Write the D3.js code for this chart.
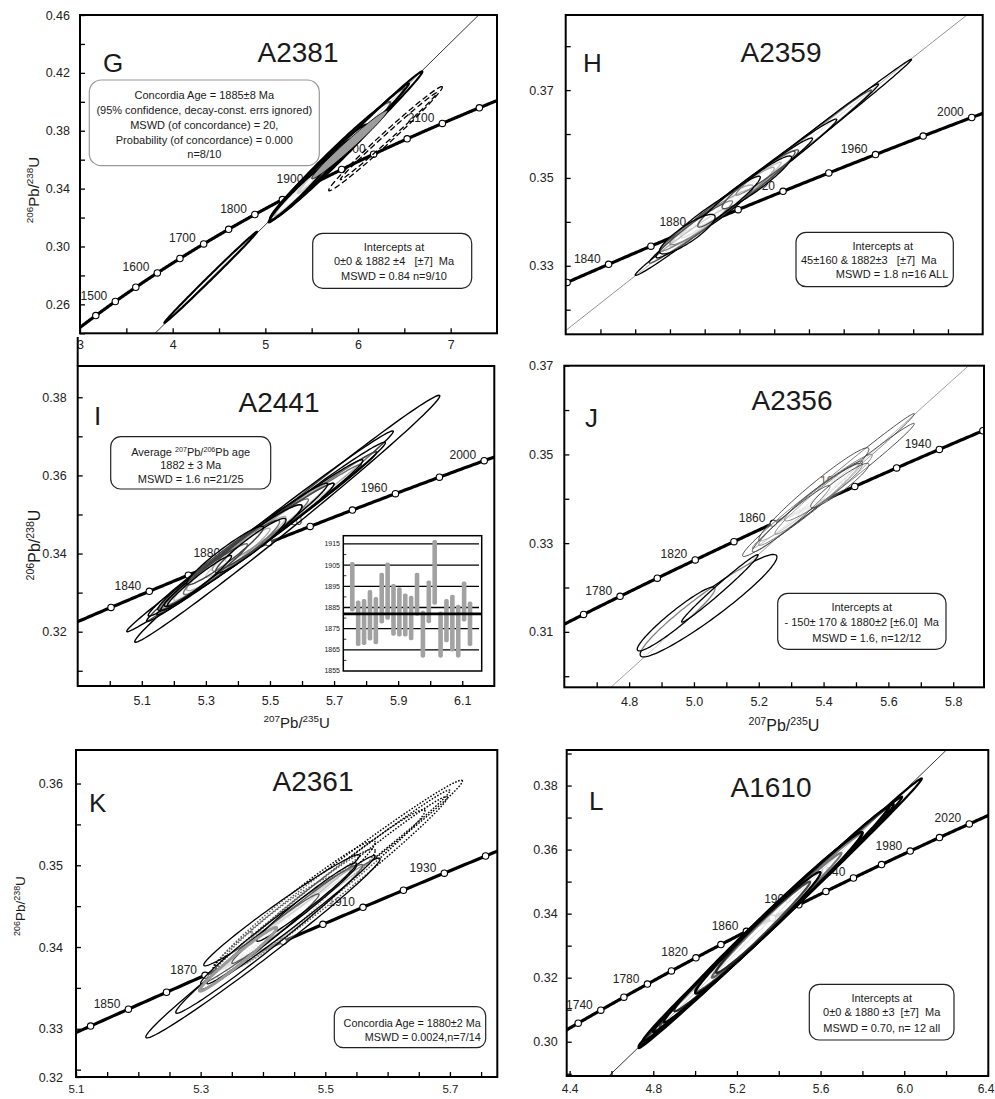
<!DOCTYPE html>
<html><head><meta charset="utf-8">
<script src="https://cdn.jsdelivr.net/npm/d3@7/dist/d3.min.js"></script>
<style>
html,body{margin:0;padding:0;background:#fff}
text{font-family:"Liberation Sans",Arial,Helvetica,sans-serif;fill:#1a1a1a}
</style></head><body>
<svg id="chart" width="995" height="1099" xmlns="http://www.w3.org/2000/svg"></svg>
<script>
// decay constants (per year)
const LAMBDA_238 = 1.55125e-10;
const LAMBDA_235 = 9.8485e-10;

// ---------- concordia age markers (Ma) ----------
const markAgesG = [1450,1500,1550,1600,1650,1700,1750,1800,1850,1900,1950,2000,2050,2100,2150];
const labelAgesG = [1500,1600,1700,1800,1900,2000,2100];
const markAgesH = [1820,1840,1860,1880,1900,1920,1940,1960,1980,2000];
const labelAgesH = [1840,1880,1920,1960,2000];
const markAgesI = [1820,1840,1860,1880,1900,1920,1940,1960,1980,2000];
const labelAgesI = [1840,1880,1920,1960,2000];
const markAgesJ = [1760,1780,1800,1820,1840,1860,1880,1900,1920,1940,1960];
const labelAgesJ = [1780,1820,1860,1900,1940];
const markAgesK = [1840,1850,1860,1870,1880,1890,1900,1910,1920,1930,1940];
const labelAgesK = [1850,1870,1890,1910,1930];
const markAgesL = [1720,1740,1760,1780,1800,1820,1840,1860,1880,1900,1920,1940,1960,1980,2000,2020];
const labelAgesL = [1740,1780,1820,1860,1900,1940,1980,2020];

// discordia intercept ages (Ma)
const interceptsG = [0, 1882];
const interceptsH = [45, 1882];
const interceptsJ = [-150, 1880];
const interceptsL = [0, 1880];

// ---------- error ellipses: [207/235, 2s, 206/238, 2s, rho] ----------
const ellipsesG = [
  [4.41, 0.50, 0.2787, 0.0315, 0.998],
  [5.865, 0.83, 0.3688, 0.0522, 0.9957],
  [5.80, 0.70, 0.3655, 0.0440, 0.994],
  [5.70, 0.65, 0.3590, 0.0410, 0.986],
  [5.95, 0.60, 0.3748, 0.0380, 0.995],
  [5.60, 0.50, 0.3528, 0.0315, 0.983],
  [5.50, 0.45, 0.3465, 0.0280, 0.978],
  [5.45, 0.40, 0.3432, 0.0250, 0.981],
  [5.35, 0.30, 0.3370, 0.0190, 0.979]
];
const ellipsesGGray = [[5.91, 0.41, 0.3704, 0.0237, 0.985]];
const ellipsesGDashed = [
  [6.297, 0.613, 0.3745, 0.036, 0.9896],
  [6.33, 0.52, 0.3762, 0.030, 0.995]
];
const ellipsesH = [
  [5.33, 0.13, 0.3354, 0.0076, 0.989],
  [5.71, 0.285, 0.3592, 0.0178, 0.9979],
  [5.68, 0.22, 0.3574, 0.0140, 0.9946],
  [5.58, 0.20, 0.3514, 0.0120, 0.9897],
  [5.50, 0.17, 0.3464, 0.0100, 0.98],
  [5.45, 0.15, 0.3434, 0.0090, 0.975],
  [5.40, 0.13, 0.3403, 0.0070, 0.9715],
  [5.37, 0.11, 0.3383, 0.0065, 0.965],
  [5.42, 0.12, 0.3416, 0.0068, 0.944],
  [5.52, 0.14, 0.3476, 0.0085, 0.9715],
  [5.35, 0.08, 0.3372, 0.0045, 0.868],
  [5.60, 0.11, 0.3526, 0.0065, 0.976],
  [5.47, 0.09, 0.3446, 0.0058, 0.953],
  [5.55, 0.10, 0.3490, 0.0060, 0.943],
  [5.43, 0.19, 0.3421, 0.0115, 0.989],
  [5.63, 0.25, 0.3545, 0.0155, 0.9956]
];
const ellipsesI = [
  [5.554, 0.476, 0.3489, 0.0316, 0.9946],
  [5.443, 0.39, 0.3430, 0.0230, 0.9954],
  [5.50, 0.385, 0.3470, 0.0244, 0.9944],
  [5.49, 0.343, 0.3452, 0.0209, 0.9943],
  [5.47, 0.315, 0.3444, 0.0184, 0.9928],
  [5.40, 0.22, 0.3405, 0.0135, 0.982],
  [5.45, 0.25, 0.3430, 0.0150, 0.9856],
  [5.35, 0.20, 0.3375, 0.0120, 0.9776],
  [5.42, 0.18, 0.3415, 0.0110, 0.965],
  [5.50, 0.20, 0.3460, 0.0120, 0.983],
  [5.38, 0.15, 0.3390, 0.0095, 0.962],
  [5.33, 0.17, 0.3360, 0.0105, 0.977],
  [5.56, 0.23, 0.3500, 0.0140, 0.987],
  [5.46, 0.14, 0.3440, 0.0085, 0.954],
  [5.30, 0.13, 0.3345, 0.0080, 0.971],
  [5.36, 0.12, 0.3395, 0.0075, 0.954],
  [5.52, 0.16, 0.3480, 0.0100, 0.974],
  [5.44, 0.11, 0.3420, 0.0070, 0.946],
  [5.28, 0.10, 0.3330, 0.0065, 0.968],
  [5.40, 0.28, 0.3410, 0.0170, 0.9887],
  [5.60, 0.26, 0.3525, 0.0160, 0.990]
];
const ellipsesJLower = [
  [5.045, 0.211, 0.3159, 0.01155, 0.95],
  [4.945, 0.12, 0.3129, 0.0072, 0.948],
  [5.08, 0.118, 0.3198, 0.0076, 0.987]
];
const ellipsesJUpper = [
  [5.43, 0.25, 0.3440, 0.0152, 0.9954],
  [5.36, 0.16, 0.3390, 0.0095, 0.977],
  [5.38, 0.13, 0.3400, 0.0080, 0.975],
  [5.35, 0.20, 0.3385, 0.0115, 0.98],
  [5.40, 0.12, 0.3415, 0.0065, 0.953],
  [5.45, 0.09, 0.3430, 0.0050, 0.94],
  [5.30, 0.12, 0.3355, 0.0075, 0.971],
  [5.37, 0.17, 0.3410, 0.0105, 0.968],
  [5.50, 0.18, 0.3465, 0.0105, 0.9905]
];
const ellipsesKDotted = [
  [5.52, 0.20, 0.3489, 0.0115, 0.991],
  [5.51, 0.19, 0.3480, 0.0112, 0.994],
  [5.53, 0.166, 0.3481, 0.0103, 0.99],
  [5.46, 0.12, 0.3445, 0.0075, 0.97],
  [5.45, 0.13, 0.3450, 0.0080, 0.975],
  [5.42, 0.10, 0.3425, 0.0062, 0.95],
  [5.50, 0.16, 0.3470, 0.0098, 0.985]
];
const ellipsesKSolid = [
  [5.40, 0.188, 0.33988, 0.0110, 0.990],
  [5.41, 0.15, 0.3410, 0.0091, 0.988],
  [5.42, 0.12, 0.3425, 0.0070, 0.988],
  [5.45, 0.10, 0.3440, 0.0060, 0.988],
  [5.44, 0.14, 0.3430, 0.0082, 0.991],
  [5.40, 0.09, 0.3410, 0.0055, 0.985],
  [5.47, 0.08, 0.3455, 0.0048, 0.981],
  [5.43, 0.125, 0.3445, 0.0068, 0.984]
];
const ellipsesKGray = [[5.36, 0.062, 0.3385, 0.0039, 0.979]];
const ellipsesL = [
  [5.407, 0.677, 0.3401, 0.0421, 0.9981],
  [5.36, 0.63, 0.3375, 0.0390, 0.9978],
  [5.35, 0.60, 0.3372, 0.0370, 0.9967],
  [5.30, 0.50, 0.3340, 0.0310, 0.9953],
  [5.25, 0.45, 0.3310, 0.0280, 0.9957],
  [5.35, 0.45, 0.3375, 0.0280, 0.9924],
  [5.40, 0.40, 0.3405, 0.0250, 0.990],
  [5.20, 0.35, 0.3280, 0.0220, 0.993],
  [5.45, 0.35, 0.3435, 0.0220, 0.990],
  [5.30, 0.30, 0.3340, 0.0190, 0.987],
  [5.50, 0.42, 0.3465, 0.0265, 0.995],
  [5.38, 0.55, 0.3390, 0.0345, 0.9961]
];

// ---------- inset (I): 207Pb/206Pb ages ----------
const insetLow  = [1883.1,1866.8,1867.3,1869.4,1867.6,1877.4,1879.2,1871.6,1871.3,1871.3,1869.5,1881.1,1861.3,1877.6,1886.3,1861.3,1868.6,1864.2,1861.3,1878.4,1866.8];
const insetHigh = [1906.5,1888.3,1889.0,1893.2,1889.9,1901.4,1906.2,1896.1,1894.6,1891.6,1890.5,1901.4,1883.4,1897.8,1916.9,1883.1,1889.0,1891.0,1886.3,1897.3,1887.8];
const insetGrid = [1865,1875,1885,1895,1905,1915];
const insetLabels = [1855,1865,1875,1885,1895,1905,1915];
const insetMinor = [1860,1870,1880,1890,1900,1910];
const insetMean = 1882;

// ---------- axis ticks ----------
const xTicksG = [3,3.5,4,4.5,5,5.5,6,6.5,7];
const xLabelsG = [3,4,5,6,7];
const yTicksG = [0.24,0.26,0.28,0.30,0.32,0.34,0.36,0.38,0.40,0.42,0.44,0.46];
const yLabelsG = [0.26,0.30,0.34,0.38,0.42,0.46];
const xTicksH = [5.1,5.2,5.3,5.4,5.5,5.6,5.7,5.8,5.9,6.0,6.1];
const xLabelsH = [];
const yTicksH = [0.32,0.33,0.34,0.35,0.36,0.37,0.38];
const yLabelsH = [0.33,0.35,0.37];
const xTicksI = [5.0,5.1,5.2,5.3,5.4,5.5,5.6,5.7,5.8,5.9,6.0,6.1];
const xLabelsI = [5.1,5.3,5.5,5.7,5.9,6.1];
const yTicksI = [0.31,0.32,0.33,0.34,0.35,0.36,0.37,0.38];
const yLabelsI = [0.32,0.34,0.36,0.38];
const xTicksJ = [4.7,4.8,4.9,5.0,5.1,5.2,5.3,5.4,5.5,5.6,5.7,5.8];
const xLabelsJ = [4.8,5.0,5.2,5.4,5.6,5.8];
const yTicksJ = [0.30,0.31,0.32,0.33,0.34,0.35,0.36,0.37];
const yLabelsJ = [0.31,0.33,0.35,0.37];
const xTicksK = [5.1,5.15,5.2,5.25,5.3,5.35,5.4,5.45,5.5,5.55,5.6,5.65,5.7,5.75];
const xLabelsK = [5.1,5.3,5.5,5.7];
const yTicksK = [0.3241,0.325,0.33,0.335,0.34,0.345,0.35,0.355,0.36];
const yLabelsK = [0.3241,0.33,0.34,0.35,0.36];
const yLabelTextK = ["0.32","0.33","0.34","0.35","0.36"];
const xTicksL = [4.4,4.6,4.8,5.0,5.2,5.4,5.6,5.8,6.0,6.2,6.4];
const xLabelsL = [4.4,4.8,5.2,5.6,6.0,6.4];
const yTicksL = [0.29,0.30,0.31,0.32,0.33,0.34,0.35,0.36,0.37,0.38,0.39];
const yLabelsL = [0.30,0.32,0.34,0.36,0.38];

// ---------- annotation texts ----------
const boxG1 = ["Concordia Age = 1885\u00b18 Ma","(95% confidence, decay-const. errs ignored)","MSWD (of concordance) = 20,","Probability (of concordance) = 0.000","n=8/10"];
const boxG2 = ["Intercepts at","0\u00b10 & 1882 \u00b14   [\u00b17]  Ma","MSWD = 0.84 n=9/10"];
const boxH = ["Intercepts at","45\u00b1160 & 1882\u00b13   [\u00b17]  Ma","MSWD = 1.8 n=16 ALL"];
const boxI = ["Average {207}Pb/{206}Pb age","1882 \u00b1 3 Ma","MSWD = 1.6 n=21/25"];
const boxJ = ["Intercepts at","- 150\u00b1 170 & 1880\u00b12 [\u00b16.0]  Ma","MSWD = 1.6, n=12/12"];
const boxK = ["Concordia Age = 1880\u00b12 Ma","MSWD = 0.0024,n=7/14"];
const boxL = ["Intercepts at","0\u00b10 & 1880 \u00b13  [\u00b17]  Ma","MSWD = 0.70, n= 12 all"];

// ================= drawing =================
const svg = d3.select("#chart");
const defs = svg.append("defs");

function conc(tMa){ return [Math.exp(LAMBDA_235*tMa*1e6)-1, Math.exp(LAMBDA_238*tMa*1e6)-1]; }
function ageFromX(x){ return Math.log(1+x)/LAMBDA_235/1e6; }

function rich(sel, str, base, sup){
  const parts = str.split(/(\{[^}]*\})/).filter(s=>s.length);
  let raised = false;
  parts.forEach(pt=>{
    if(pt[0]==="{"){ sel.append("tspan").attr("font-size",sup).attr("dy",-base*0.4).text(pt.slice(1,-1)); raised=true; }
    else { const ts = sel.append("tspan").attr("font-size",base).text(pt); if(raised){ ts.attr("dy",base*0.4); raised=false; } }
  });
}

function ellipsePath(e, x, y){
  const [cx,sx,cy,sy,r] = e;
  const q = Math.sqrt(1-r*r);
  const pts = d3.range(0,120).map(i=>{
    const th = 2*Math.PI*i/120;
    return [x(cx + sx*Math.cos(th)), y(cy + sy*(r*Math.cos(th) + q*Math.sin(th)))];
  });
  return d3.line().curve(d3.curveLinearClosed)(pts);
}

const panels = [
 {key:"G", l:80, t:15, r:497, b:333.3, xd:[3,7.5], yd:[0.24,0.46],
  xTicks:xTicksG, xLabels:xLabelsG, xFmt:d3.format("d"), yTicks:yTicksG, yLabels:yLabelsG, yFmt:d3.format(".2f"),
  xPad:7, yPad:10, marks:markAgesG, labels:labelAgesG, intercepts:interceptsG, disc:{c:"#000",w:0.8},
  groups:[{d:ellipsesG, stroke:"#000", w:2.1, fill:"#fff", fo:0.35, sort:true},
          {d:ellipsesGGray, stroke:"#000", w:0.9, fill:"#9c9c9c", fo:1},
          {d:ellipsesGDashed, stroke:"#000", w:1.3, fill:"none", dash:"6,3"}],
  letter:["G",103,71.7], title:["A2381",298,61.7]},
 {key:"H", l:565.7, t:15, r:982.7, b:334.3, xd:[5.0,6.2], yd:[0.3144,0.3871],
  xTicks:xTicksH, xLabels:xLabelsH, xFmt:d3.format(".1f"), yTicks:yTicksH, yLabels:yLabelsH, yFmt:d3.format(".2f"),
  xPad:8, yPad:12, marks:markAgesH, labels:labelAgesH, intercepts:interceptsH, disc:{c:"#777",w:0.8},
  groups:[{d:ellipsesH, stroke:"#000", w:1.3, fill:"#fff", fo:0.3, sort:true}],
  letter:["H",583,71.7], title:["A2359",781,61.7]},
 {key:"I", l:77.7, t:366, r:494.3, b:686, xd:[4.9,6.2], yd:[0.3061,0.3880],
  xTicks:xTicksI, xLabels:xLabelsI, xFmt:d3.format(".1f"), yTicks:yTicksI, yLabels:yLabelsI, yFmt:d3.format(".2f"),
  xPad:10, yPad:11, marks:markAgesI, labels:labelAgesI, intercepts:null,
  groups:[{d:ellipsesI, stroke:"#000", w:1.4, fill:"#fff", fo:0.25, sort:true}],
  letter:["I",94,425], title:["A2441",279,412.3]},
 {key:"J", l:564.3, t:365.7, r:984, b:687.3, xd:[4.6,5.895], yd:[0.2975,0.37],
  xTicks:xTicksJ, xLabels:xLabelsJ, xFmt:d3.format(".1f"), yTicks:yTicksJ, yLabels:yLabelsJ, yFmt:d3.format(".2f"),
  xPad:10, yPad:11, marks:markAgesJ, labels:labelAgesJ, intercepts:interceptsJ, disc:{c:"#888",w:0.8},
  groups:[{d:ellipsesJLower, stroke:"#000", w:1.3, fill:"#fff", fo:0.5, sort:true},
          {d:ellipsesJUpper, stroke:"#3a3a3a", w:0.9, fill:"#fff", fo:0.3, sort:true}],
  letter:["J",585,426.7], title:["A2356",792,410]},
 {key:"K", l:76, t:750, r:497.3, b:1077, xd:[5.1,5.776], yd:[0.3241,0.3641],
  xTicks:xTicksK, xLabels:xLabelsK, xFmt:d3.format(".1f"), yTicks:yTicksK, yLabels:yLabelsK, yText:yLabelTextK, yFmt:d3.format(".2f"),
  xPad:8, xSize:11.5, yPad:13, marks:markAgesK, labels:labelAgesK, intercepts:null,
  groups:[{d:ellipsesKDotted, stroke:"#000", w:1.4, fill:"none", dash:"1.6,1.6", sort:true},
          {d:ellipsesKSolid, stroke:"#000", w:1.3, fill:"#fff", fo:0.35, sort:true},
          {d:ellipsesKGray, stroke:"#9a9a9a", w:3, fill:"none"}],
  letter:["K",89,811.7], title:["A2361",313,790.7]},
 {key:"L", l:566.7, t:750, r:988.3, b:1076, xd:[4.386,6.402], yd:[0.2893,0.3911],
  xTicks:xTicksL, xLabels:xLabelsL, xFmt:d3.format(".1f"), yTicks:yTicksL, yLabels:yLabelsL, yFmt:d3.format(".2f"),
  xPad:8, xSize:12, yPad:9, marks:markAgesL, labels:labelAgesL, intercepts:interceptsL, disc:{c:"#000",w:0.8},
  groups:[{d:ellipsesL, stroke:"#000", w:2.2, fill:"#fff", fo:0.15, sort:true}],
  letter:["L",589,810], title:["A1610",771,796.7], lastXEnd:true}
];

panels.forEach(p=>{
  const x = d3.scaleLinear().domain(p.xd).range([p.l,p.r]);
  const y = d3.scaleLinear().domain(p.yd).range([p.b,p.t]);
  defs.append("clipPath").attr("id","clip"+p.key).append("rect")
    .attr("x",p.l).attr("y",p.t).attr("width",p.r-p.l).attr("height",p.b-p.t);
  const g = svg.append("g").attr("class","panel-"+p.key);
  const inner = g.append("g").attr("clip-path",`url(#clip${p.key})`);

  // discordia
  if(p.intercepts){
    const a = conc(p.intercepts[0]), b = conc(p.intercepts[1]);
    const m = (b[1]-a[1])/(b[0]-a[0]);
    const x0 = p.xd[0]-1, x1 = p.xd[1]+1;
    inner.append("line").attr("x1",x(x0)).attr("y1",y(a[1]+m*(x0-a[0])))
      .attr("x2",x(x1)).attr("y2",y(a[1]+m*(x1-a[0])))
      .attr("stroke",p.disc.c).attr("stroke-width",p.disc.w);
  }
  // concordia curve
  const t0 = Math.floor(ageFromX(p.xd[0]))-5, t1 = Math.ceil(ageFromX(p.xd[1]))+5;
  const curve = d3.range(t0, t1+1, 1).map(conc);
  inner.append("path").attr("d", d3.line().x(d=>x(d[0])).y(d=>y(d[1]))(curve))
    .attr("fill","none").attr("stroke","#000").attr("stroke-width",3.2).attr("stroke-linejoin","round");
  inner.selectAll("circle.mark").data(p.marks).join("circle").attr("class","mark")
    .attr("cx",t=>x(conc(t)[0])).attr("cy",t=>y(conc(t)[1])).attr("r",3.2)
    .attr("fill","#fff").attr("stroke","#000").attr("stroke-width",1.1);
  inner.selectAll("text.age").data(p.labels).join("text").attr("class","age")
    .attr("x",t=>x(conc(t)[0])-8).attr("y",t=>y(conc(t)[1])-1.5)
    .attr("text-anchor","end").attr("font-size",12).style("fill","#222").text(t=>t);

  // ellipses
  p.groups.forEach(gr=>{
    let data = gr.d.slice();
    if(gr.sort) data.sort((a,b)=>b[1]-a[1]);
    inner.append("g").selectAll("path").data(data).join("path")
      .attr("d",e=>ellipsePath(e,x,y))
      .attr("fill",gr.fill).attr("fill-opacity",gr.fo==null?1:gr.fo)
      .attr("stroke",gr.stroke).attr("stroke-width",gr.w)
      .attr("stroke-dasharray",gr.dash||null);
  });

  // frame
  g.append("rect").attr("x",p.l).attr("y",p.t).attr("width",p.r-p.l).attr("height",p.b-p.t)
    .attr("fill","none").attr("stroke","#000").attr("stroke-width",2);

  // axes
  const near = (arr,d)=>arr.findIndex(v=>Math.abs(v-d)<1e-6);
  const yAx = d3.axisLeft(y).tickValues(p.yTicks).tickSize(-5).tickPadding(p.yPad)
    .tickFormat(d=>{ const i = near(p.yLabels,d); return i<0 ? "" : (p.yText ? p.yText[i] : p.yFmt(d)); });
  const xAx = d3.axisBottom(x).tickValues(p.xTicks).tickSize(-5).tickPadding(p.xPad)
    .tickFormat(d=> near(p.xLabels,d)<0 ? "" : p.xFmt(d));
  const ya = g.append("g").attr("transform",`translate(${p.l},0)`).call(yAx);
  const xa = g.append("g").attr("transform",`translate(0,${p.b})`).call(xAx);
  [ya,xa].forEach(a=>{
    a.select(".domain").remove();
    a.selectAll(".tick line").attr("stroke","#000").attr("stroke-width",1.3);
    a.selectAll(".tick text").attr("font-size",12.5).attr("font-family",null).style("fill","#222");
  });
  if(p.xSize) xa.selectAll(".tick text").attr("font-size",p.xSize);
  if(p.lastXEnd){
    const lastVal = p.xLabels[p.xLabels.length-1];
    xa.selectAll(".tick").filter(d=>Math.abs(d-lastVal)<1e-6).select("text")
      .attr("text-anchor","end").attr("dx",6);
  }

  // letter and sample name
  g.append("text").attr("x",p.letter[1]).attr("y",p.letter[2]).attr("font-size",26).text(p.letter[0]);
  g.append("text").attr("x",p.title[1]).attr("y",p.title[2]).attr("text-anchor","middle").attr("font-size",28).text(p.title[0]);
});

// ---------- boxes ----------
function box(x0,y0,x1,y1,stroke,rx){
  svg.append("rect").attr("x",x0).attr("y",y0).attr("width",x1-x0).attr("height",y1-y0)
    .attr("rx",rx).attr("ry",rx).attr("fill","#fff").attr("stroke",stroke).attr("stroke-width",1.2);
}
function lines(arr, xs, ys, anchor, size){
  arr.forEach((s,i)=>{
    const t = svg.append("text").attr("x",Array.isArray(xs)?xs[i]:xs).attr("y",ys[i])
      .attr("text-anchor",Array.isArray(anchor)?anchor[i]:anchor).attr("font-size",size).style("white-space","pre");
    rich(t, s, size, size*0.65);
  });
}
box(89.3,80,319.3,165.7,"#999",12);
lines(boxG1, 204.3, [99,114,129.3,144,157.5], "middle", 11);
box(312.7,233.3,471.7,288.3,"#222",10);
lines(boxG2, 394, [250.7,265,280], "middle", 11);
box(796,232.3,953.3,286.7,"#222",10);
lines(boxH, [882.7,801,948.3], [249.7,264,278.3], ["middle","start","end"], 11);
box(110.7,436.7,270.7,489,"#222",10);
lines(boxI, 190.7, [456.3,469,483.3], "middle", 11);
box(777.7,593.3,946,649.3,"#222",10);
lines(boxJ, [861.7,861.7,866.7], [610.7,626.3,641.7], "middle", 11);
box(334.3,1006.7,485.7,1047.7,"#222",9);
lines(boxK, 480.7, [1026.7,1040.7], "end", 10.8);
box(809.3,984.3,954,1040,"#222",10);
lines(boxL, 881.7, [1002.3,1016.3,1032.3], "middle", 11);

// ---------- axis titles ----------
function title(x,y,rot,str,size){
  const t = svg.append("text").attr("text-anchor","middle")
    .attr("transform",`translate(${x},${y})${rot?" rotate(-90)":""}`);
  rich(t,str,size,size*0.66);
}
title(39,190,true,"{206}Pb/{238}U",15);
title(40,545,true,"{206}Pb/{238}U",16);
title(25,906,true,"{206}Pb/{238}U",13.5);
title(296.7,728,false,"{207}Pb/{235}U",15);
title(784,731,false,"{207}Pb/{235}U",16);
// small extension of panel I left border
svg.append("line").attr("x1",77.7).attr("x2",77.7).attr("y1",337).attr("y2",366).attr("stroke","#000").attr("stroke-width",2);

// ---------- inset in panel I ----------
const iy = d3.scaleLinear().domain([1855,1918.9]).range([671,535.7]);
const ix = d3.scaleLinear().domain([0,insetLow.length-1]).range([352.3,470]);
const ins = svg.append("g");
ins.append("rect").attr("x",343.3).attr("y",535.7).attr("width",138.4).attr("height",135.3).attr("fill","#fff");
ins.selectAll("line.grid").data(insetGrid).join("line").attr("class","grid")
  .attr("x1",343.3).attr("x2",479).attr("y1",d=>iy(d)).attr("y2",d=>iy(d)).attr("stroke","#000").attr("stroke-width",1.3);
ins.selectAll("rect.bar").data(insetLow).join("rect").attr("class","bar")
  .attr("x",(d,i)=>ix(i)-2.3).attr("width",4.6)
  .attr("y",(d,i)=>iy(insetHigh[i])).attr("height",(d,i)=>iy(d)-iy(insetHigh[i]))
  .attr("rx",1.8).attr("fill","#a2a2a2");
ins.append("line").attr("x1",343.3).attr("x2",481.7).attr("y1",iy(insetMean)).attr("y2",iy(insetMean))
  .attr("stroke","#000").attr("stroke-width",2.6);
ins.selectAll("line.mt").data(insetMinor).join("line").attr("class","mt")
  .attr("x1",343.3).attr("x2",346.3).attr("y1",d=>iy(d)).attr("y2",d=>iy(d)).attr("stroke","#000").attr("stroke-width",0.8);
ins.append("rect").attr("x",343.3).attr("y",535.7).attr("width",138.4).attr("height",135.3)
  .attr("fill","none").attr("stroke","#000").attr("stroke-width",1.5);
ins.selectAll("text").data(insetLabels).join("text").attr("x",340).attr("y",d=>iy(d)+2.4)
  .attr("text-anchor","end").attr("font-size",7).text(d=>d);
</script>
</body></html>
